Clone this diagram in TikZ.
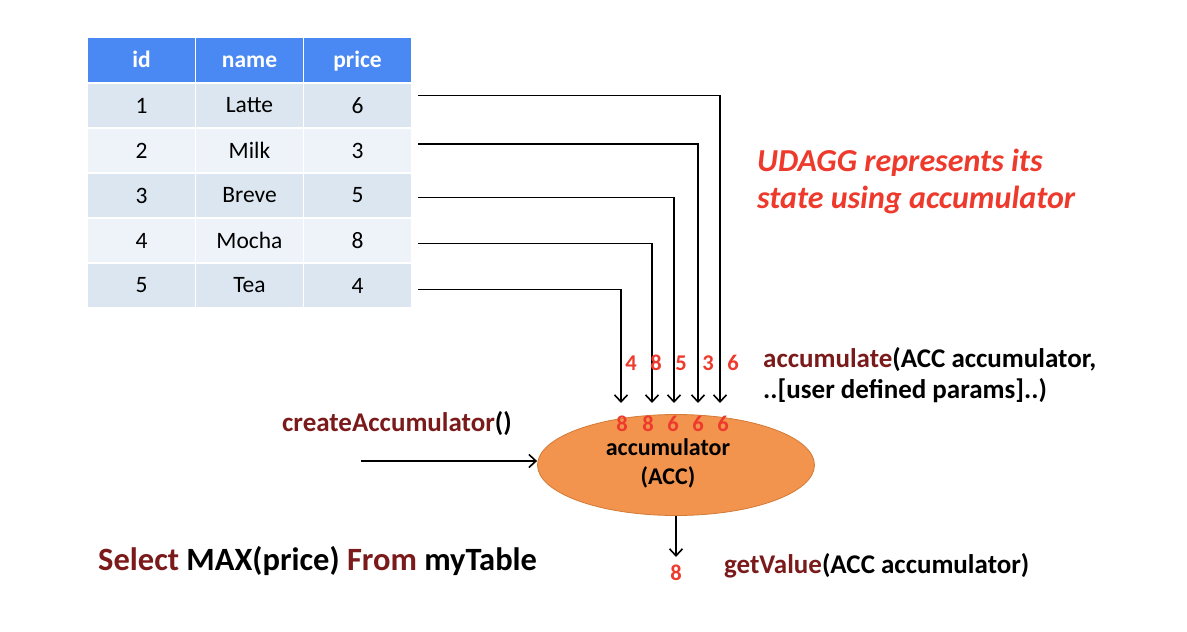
\documentclass[tikz,border=0pt]{standalone}
\usepackage{fontspec}
\setmainfont{Carlito}
\usetikzlibrary{arrows.meta,shapes.geometric}

\definecolor{hdrblue}{HTML}{4A89F3}
\definecolor{rowdark}{HTML}{DCE6F1}
\definecolor{rowlight}{HTML}{EEF3FA}
\definecolor{fnred}{HTML}{7A1A1A}
\definecolor{numred}{HTML}{EE3A2C}
\definecolor{accfill}{HTML}{F2934E}
\definecolor{accline}{HTML}{D27A36}

\tikzset{
  cell/.style={minimum width=107pt, minimum height=43pt, inner sep=0pt,
    font=\fontsize{23.5}{26}\selectfont},
  hdr/.style={cell, minimum height=44pt, fill=hdrblue, text=white,
    text height=18pt, text depth=4pt,
    font=\fontsize{23.5}{26}\selectfont\bfseries},
  darkrow/.style={cell, fill=rowdark},
  lightrow/.style={cell, fill=rowlight},
  feed/.style={-{Straight Barb[length=7pt,width=13pt,line width=1.6pt]}, line width=1.2pt},
  num/.style={text=numred, inner sep=0pt, font=\fontsize{22.5}{24}\selectfont\bfseries},
  call/.style={anchor=west, inner sep=0pt, align=left,
    font=\fontsize{27}{31}\selectfont\bfseries},
}

\begin{document}
\begin{tikzpicture}[x=1pt,y=-1pt]
\useasboundingbox (0,0) rectangle (1187,632);

%\draw [step=50, dotted] (0,0) grid (1187,632);

% table
\node [hdr] (hid) at (141.5,60) {id};
\node [hdr] (hname) at (249.5,60) {name};
\node [hdr] (hprice) at (357.5,60) {price};

\node [darkrow] (id1) at (141.5,105.5) {1};
\node [darkrow] (n1) at (249.5,105.5) {Latte};
\node [darkrow] (p1) at (357.5,105.5) {6};

\node [lightrow] (id2) at (141.5,150.5) {2};
\node [lightrow] (n2) at (249.5,150.5) {Milk};
\node [lightrow] (p2) at (357.5,150.5) {3};

\node [darkrow] (id3) at (141.5,195.5) {3};
\node [darkrow] (n3) at (249.5,195.5) {Breve};
\node [darkrow] (p3) at (357.5,195.5) {5};

\node [lightrow] (id4) at (141.5,240.5) {4};
\node [lightrow] (n4) at (249.5,240.5) {Mocha};
\node [lightrow] (p4) at (357.5,240.5) {8};

\node [darkrow] (id5) at (141.5,285.5) {5};
\node [darkrow] (n5) at (249.5,285.5) {Tea};
\node [darkrow] (p5) at (357.5,285.5) {4};

% accumulator
\node [ellipse, draw=accline, fill=accfill, line width=0.8pt,
  minimum width=277pt, minimum height=101pt] (acc) at (676,465) {};
\node [font=\fontsize{24}{29}\selectfont\bfseries, align=center] (acctext)
  at (668,463) {accumulator\\(ACC)};

\coordinate (in1) at (720,403);
\coordinate (in2) at (698,403);
\coordinate (in3) at (674,403);
\coordinate (in4) at (652,403);
\coordinate (in5) at (621,403);

\draw [feed] ([shift={(7,-10)}]p1.east) -| (in1);
\draw [feed] ([shift={(7,-6.5)}]p2.east) -| (in2);
\draw [feed] ([shift={(7,2)}]p3.east) -| (in3);
\draw [feed] ([shift={(7,3)}]p4.east) -| (in4);
\draw [feed] ([shift={(7,4)}]p5.east) -| (in5);

\node [num] (v1) at (733,363) {6};
\node [num] (v2) at (708,363) {3};
\node [num] (v3) at (681,363) {5};
\node [num] (v4) at (656,363) {8};
\node [num] (v5) at (631,363) {4};

\node [num] (m1) at (723,424) {6};
\node [num] (m2) at (698,424) {6};
\node [num] (m3) at (673,424) {6};
\node [num] (m4) at (648,424) {8};
\node [num] (m5) at (622,424) {8};

% create
\node [call] (create) at (282,424) {\textcolor{fnred}{createAccumulator}()};
\coordinate (start) at (361,461);
\draw [feed] (start) -- (acc.west |- start);

% accumulate
\node [call] (accum) at (763,375)
  {\textcolor{fnred}{accumulate}(ACC accumulator,\\..[user defined params]..)};

% result
\node [num] (result) at (676,573) {8};
\draw [feed] (acc.south) -- ([yshift=8pt]result.north);
\node [call] (getval) at (724,566) {\textcolor{fnred}{getValue}(ACC accumulator)};

% query
\node [call, font=\fontsize{32.5}{36}\selectfont\bfseries] (query) at (98,561)
  {\textcolor{fnred}{Select} MAX(price) \textcolor{fnred}{From} myTable};

% note
\node [call, text=numred, font=\fontsize{32}{37}\selectfont\bfseries\itshape]
  (note) at (757,181) {UDAGG represents its\\state using accumulator};

\end{tikzpicture}
\end{document}
